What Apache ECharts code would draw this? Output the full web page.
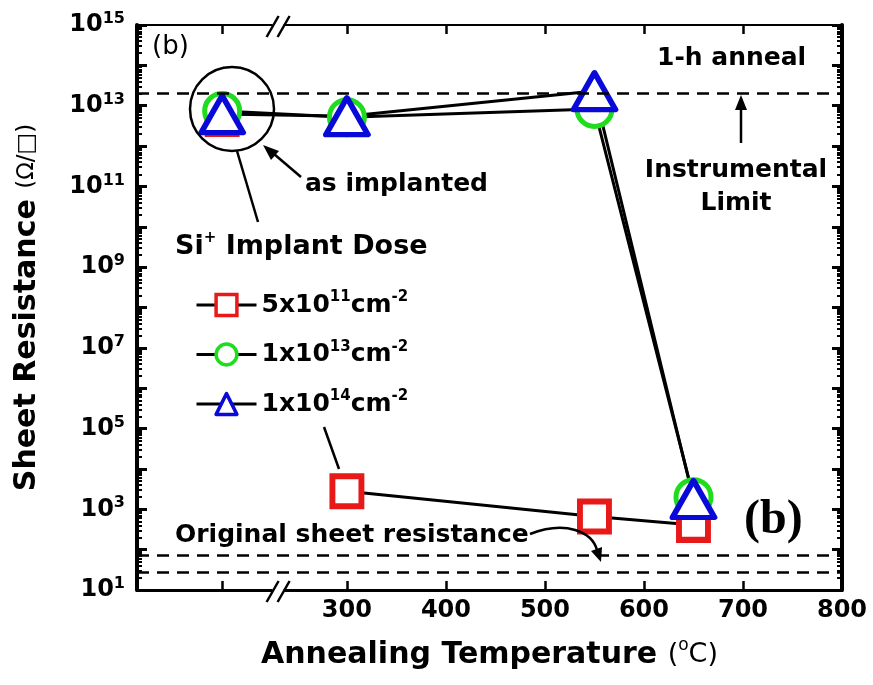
<!DOCTYPE html>
<html><head><meta charset="utf-8">
<script src="https://cdn.jsdelivr.net/npm/echarts@6/dist/echarts.min.js"></script>
<style>html,body{margin:0;padding:0;background:#fff;}#chart{width:873px;height:685px;}</style>
</head><body><div id="chart"></div>
<script>
// ---------------- data ----------------
// first temperature slot = "as implanted" samples (left of the axis break)
const temperatures = [174, 300, 550, 650];
const xTickValues = [174, 300, 400, 500, 600, 700, 800];
const xLabelValues = [300, 400, 500, 600, 700, 800];
const axisBreakAt = 230;
const doseNames = ['5x10^11', '1x10^13', '1x10^14'];
const doseBase = ['5x10', '1x10', '1x10'];
const doseExp = ['11', '13', '14'];
const dose5e11 = [4.7e12, 2.8e3, 6.6e2, 4.1e2];
const dose1e13 = [7.4e12, 5.2e12, 8.3e12, 2.0e3];
const dose1e14 = [6.2e12, 5.5e12, 2.3e13, 1.8e3];
const instrumentalLimit = [2.0e13];
const originalSheetResistance = [74, 28];
const yExponents = [1, 15];   // 10^1 ... 10^15

// ---------------- styles ----------------
const FONT = 'DejaVu Sans';
const RED = '#e81919', GREEN = '#1fdc1f', BLUE = '#0a0ad8';
const minorTicks = [];
for (let d = yExponents[0]; d < yExponents[1]; d++) for (let k = 2; k <= 9; k++) minorTicks.push(d + Math.log10(k));

function pts(vals) { return temperatures.map((t, i) => [t, vals[i]]); }
const squarePts = pts(dose5e11);
squarePts.splice(1, 0, [temperatures[0], '-']); // no line across the break for the low dose

const chart = echarts.init(document.getElementById('chart'), null, { renderer: 'canvas' });

const lineCommon = { type: 'line', xAxisIndex: 0, yAxisIndex: 0, lineStyle: { color: '#000', width: 3 },
  emphasis: { disabled: true }, animation: false, z: 2 };

const yTickCommon = { type: 'value', min: yExponents[0], max: yExponents[1], interval: 1,
  splitLine: { show: false }, axisLine: { show: false }, axisLabel: { show: false } };

const legendLabels = {};
doseNames.forEach((n, i) => { legendLabels[n] = `{b|${doseBase[i]}}{s|${doseExp[i]}}{b|cm}{s|-2}`; });

const option = {
  animation: false,
  textStyle: { fontFamily: FONT },
  grid: { left: 137, right: 31, top: 25, bottom: 95, containLabel: false },
  legend: {
    data: doseNames, orient: 'vertical', left: 190, top: 285, itemWidth: 60, itemHeight: 26, itemGap: 22,
    selectedMode: false, formatter: n => legendLabels[n],
    itemStyle: { borderWidth: 3.5 }, lineStyle: { width: 3, color: '#000' },
    textStyle: { rich: {
      b: { fontFamily: FONT, fontWeight: 'bold', fontSize: 25, lineHeight: 30, color: '#000' },
      s: { fontFamily: FONT, fontWeight: 'bold', fontSize: 15, lineHeight: 15, verticalAlign: 'top', color: '#000' }
    } }
  },
  xAxis: [
    { type: 'value', min: 88, max: 800, position: 'bottom',
      axisLine: { onZero: false, lineStyle: { color: '#000', width: 3 } },
      axisTick: { inside: true, length: 9, customValues: xTickValues, lineStyle: { color: '#000', width: 2.5 } },
      axisLabel: { customValues: xLabelValues, color: '#000', fontFamily: FONT, fontWeight: 'bold', fontSize: 24, margin: 9 },
      splitLine: { show: false },
      name: '{b|Annealing Temperature }{n|(}{s|o}{n|C)}', nameLocation: 'middle', nameGap: 47,
      nameTextStyle: { rich: {
        b: { fontFamily: FONT, fontWeight: 'bold', fontSize: 30, lineHeight: 36, color: '#000' },
        n: { fontFamily: FONT, fontSize: 27, lineHeight: 36, color: '#000' },
        s: { fontFamily: FONT, fontSize: 17, lineHeight: 17, verticalAlign: 'top', color: '#000' }
      } } },
    { type: 'value', min: 88, max: 800, position: 'top',
      axisLine: { onZero: false, lineStyle: { color: '#000', width: 2 } },
      axisTick: { inside: true, length: 9, customValues: xTickValues, lineStyle: { color: '#000', width: 2.5 } },
      axisLabel: { show: false }, splitLine: { show: false } }
  ],
  yAxis: [
    { type: 'log', logBase: 10, min: Math.pow(10, yExponents[0]), max: Math.pow(10, yExponents[1]), position: 'left',
      axisLine: { show: true, onZero: false, lineStyle: { color: '#000', width: 4 } },
      axisTick: { show: false }, axisLabel: { show: false }, splitLine: { show: false }, minorTick: { show: false },
      name: '{b|Sheet Resistance }{n|(Ω/□)}', nameLocation: 'middle', nameRotate: 90, nameGap: 92,
      nameTextStyle: { rich: {
        b: { fontFamily: FONT, fontWeight: 'bold', fontSize: 30, lineHeight: 36, color: '#000' },
        n: { fontFamily: FONT, fontSize: 23, lineHeight: 36, color: '#000' }
      } } },
    { ...yTickCommon, position: 'left',
      axisTick: { show: true, inside: true, length: 10, lineStyle: { color: '#000', width: 3 } },
      axisLabel: { show: true, margin: 12, formatter: v => (v % 2 === 1 ? `{b|10}{s|${v}}` : ''),
        rich: {
          b: { fontFamily: FONT, fontWeight: 'bold', fontSize: 24, lineHeight: 28, color: '#000' },
          s: { fontFamily: FONT, fontWeight: 'bold', fontSize: 16, lineHeight: 16, verticalAlign: 'top', color: '#000' }
        } } },
    { ...yTickCommon, position: 'left',
      axisTick: { show: true, inside: true, length: 5, customValues: minorTicks, lineStyle: { color: '#000', width: 2 } } },
    { ...yTickCommon, position: 'right', axisLine: { show: true, onZero: false, lineStyle: { color: '#000', width: 4 } },
      axisTick: { show: true, inside: true, length: 10, lineStyle: { color: '#000', width: 3 } } },
    { ...yTickCommon, position: 'right',
      axisTick: { show: true, inside: true, length: 5, customValues: minorTicks, lineStyle: { color: '#000', width: 2 } } }
  ],
  series: [
    { ...lineCommon, name: doseNames[0], data: squarePts, symbol: 'rect', symbolSize: [29, 30],
      itemStyle: { color: '#fff', borderColor: RED, borderWidth: 6 } },
    { ...lineCommon, name: doseNames[1], data: pts(dose1e13), symbol: 'circle', symbolSize: 35,
      itemStyle: { color: '#fff', borderColor: GREEN, borderWidth: 5 } },
    { ...lineCommon, name: doseNames[2], data: pts(dose1e14), symbol: 'triangle', symbolSize: [42, 37],
      itemStyle: { color: '#fff', borderColor: BLUE, borderWidth: 5.5, borderJoin: 'round' } },
    { type: 'line', name: 'limits', xAxisIndex: 0, yAxisIndex: 0, data: [], z: 3, silent: true,
      markLine: { silent: true, symbol: ['none', 'none'], label: { show: false }, animation: false,
        lineStyle: { color: '#000', type: [12, 8], width: 2.5 },
        data: instrumentalLimit.concat(originalSheetResistance).map(v => ({ yAxis: v })) } }
  ]
};
chart.setOption(option);

// ---------------- annotations ----------------
const bx = chart.convertToPixel({ xAxisIndex: 0 }, axisBreakAt);
const yTop = chart.convertToPixel({ yAxisIndex: 0 }, Math.pow(10, yExponents[1]));
const yBot = chart.convertToPixel({ yAxisIndex: 0 }, Math.pow(10, yExponents[0]));
const ink = { stroke: '#000', lineWidth: 2.5, fill: 'none' };
function breakMark(cx, cy) {
  return [
    { type: 'rect', z: 100, shape: { x: cx - 5, y: cy - 3, width: 11, height: 6 }, style: { fill: '#fff' } },
    { type: 'line', z: 101, shape: { x1: cx - 11, y1: cy + 12, x2: cx + 1, y2: cy - 9 }, style: { stroke: '#000', lineWidth: 2.5 } },
    { type: 'line', z: 101, shape: { x1: cx, y1: cy + 12, x2: cx + 12, y2: cy - 9 }, style: { stroke: '#000', lineWidth: 2.5 } }
  ];
}
function txt(text, x, y, font, extra) {
  return { type: 'text', z: 50, x: x, y: y, style: Object.assign({ text: text, font: font, fill: '#000', verticalAlign: 'middle' }, extra || {}) };
}
const boldF = 'bold 25px "DejaVu Sans"';
chart.setOption({
  graphic: [].concat(
    breakMark(bx, yTop), breakMark(bx, yBot),
    [
      txt('(b)', 152, 47, '26px "DejaVu Sans"'),
      txt('1-h anneal', 657, 58, boldF),
      txt('Instrumental\nLimit', 736, 187, boldF, { align: 'center', lineHeight: 33 }),
      txt('as implanted', 305, 184, boldF),
      { type: 'text', z: 50, x: 175, y: 247, style: { text: '{b|Si}{s|+}{b| Implant Dose}', verticalAlign: 'middle',
        rich: { b: { font: 'bold 27px "DejaVu Sans"', fill: '#000', lineHeight: 32 },
                s: { font: 'bold 15px "DejaVu Sans"', fill: '#000', lineHeight: 15, verticalAlign: 'top' } } } },
      txt('Original sheet resistance', 175, 535, 'bold 25px "DejaVu Sans"'),
      txt('(b)', 744, 521, 'bold 48px "Liberation Serif"'),
      // circle around the as-implanted points
      { type: 'circle', z: 40, shape: { cx: 232, cy: 109, r: 42 }, style: ink },
      // pointer lines
      { type: 'line', z: 40, shape: { x1: 237, y1: 151, x2: 258, y2: 222 }, style: ink },
      { type: 'line', z: 40, shape: { x1: 324, y1: 427, x2: 339, y2: 469 }, style: ink },
      // as implanted arrow
      { type: 'line', z: 40, shape: { x1: 301, y1: 177, x2: 274, y2: 154 }, style: ink },
      { type: 'polygon', z: 40, shape: { points: [[263, 145], [279, 151], [271, 160]] }, style: { fill: '#000' } },
      // instrumental limit arrow
      { type: 'line', z: 40, shape: { x1: 741, y1: 143, x2: 741, y2: 106 }, style: ink },
      { type: 'polygon', z: 40, shape: { points: [[741, 95], [735, 110], [747, 110]] }, style: { fill: '#000' } },
      // curved arrow to original sheet resistance
      { type: 'bezierCurve', z: 40, shape: { x1: 530, y1: 534, cpx1: 566, cpy1: 520, cpx2: 592, cpy2: 532, x2: 597, y2: 550 }, style: ink },
      { type: 'polygon', z: 40, shape: { points: [[601, 562], [602, 547], [591, 551]] }, style: { fill: '#000' } }
    ]
  )
});
</script>
</body></html>
